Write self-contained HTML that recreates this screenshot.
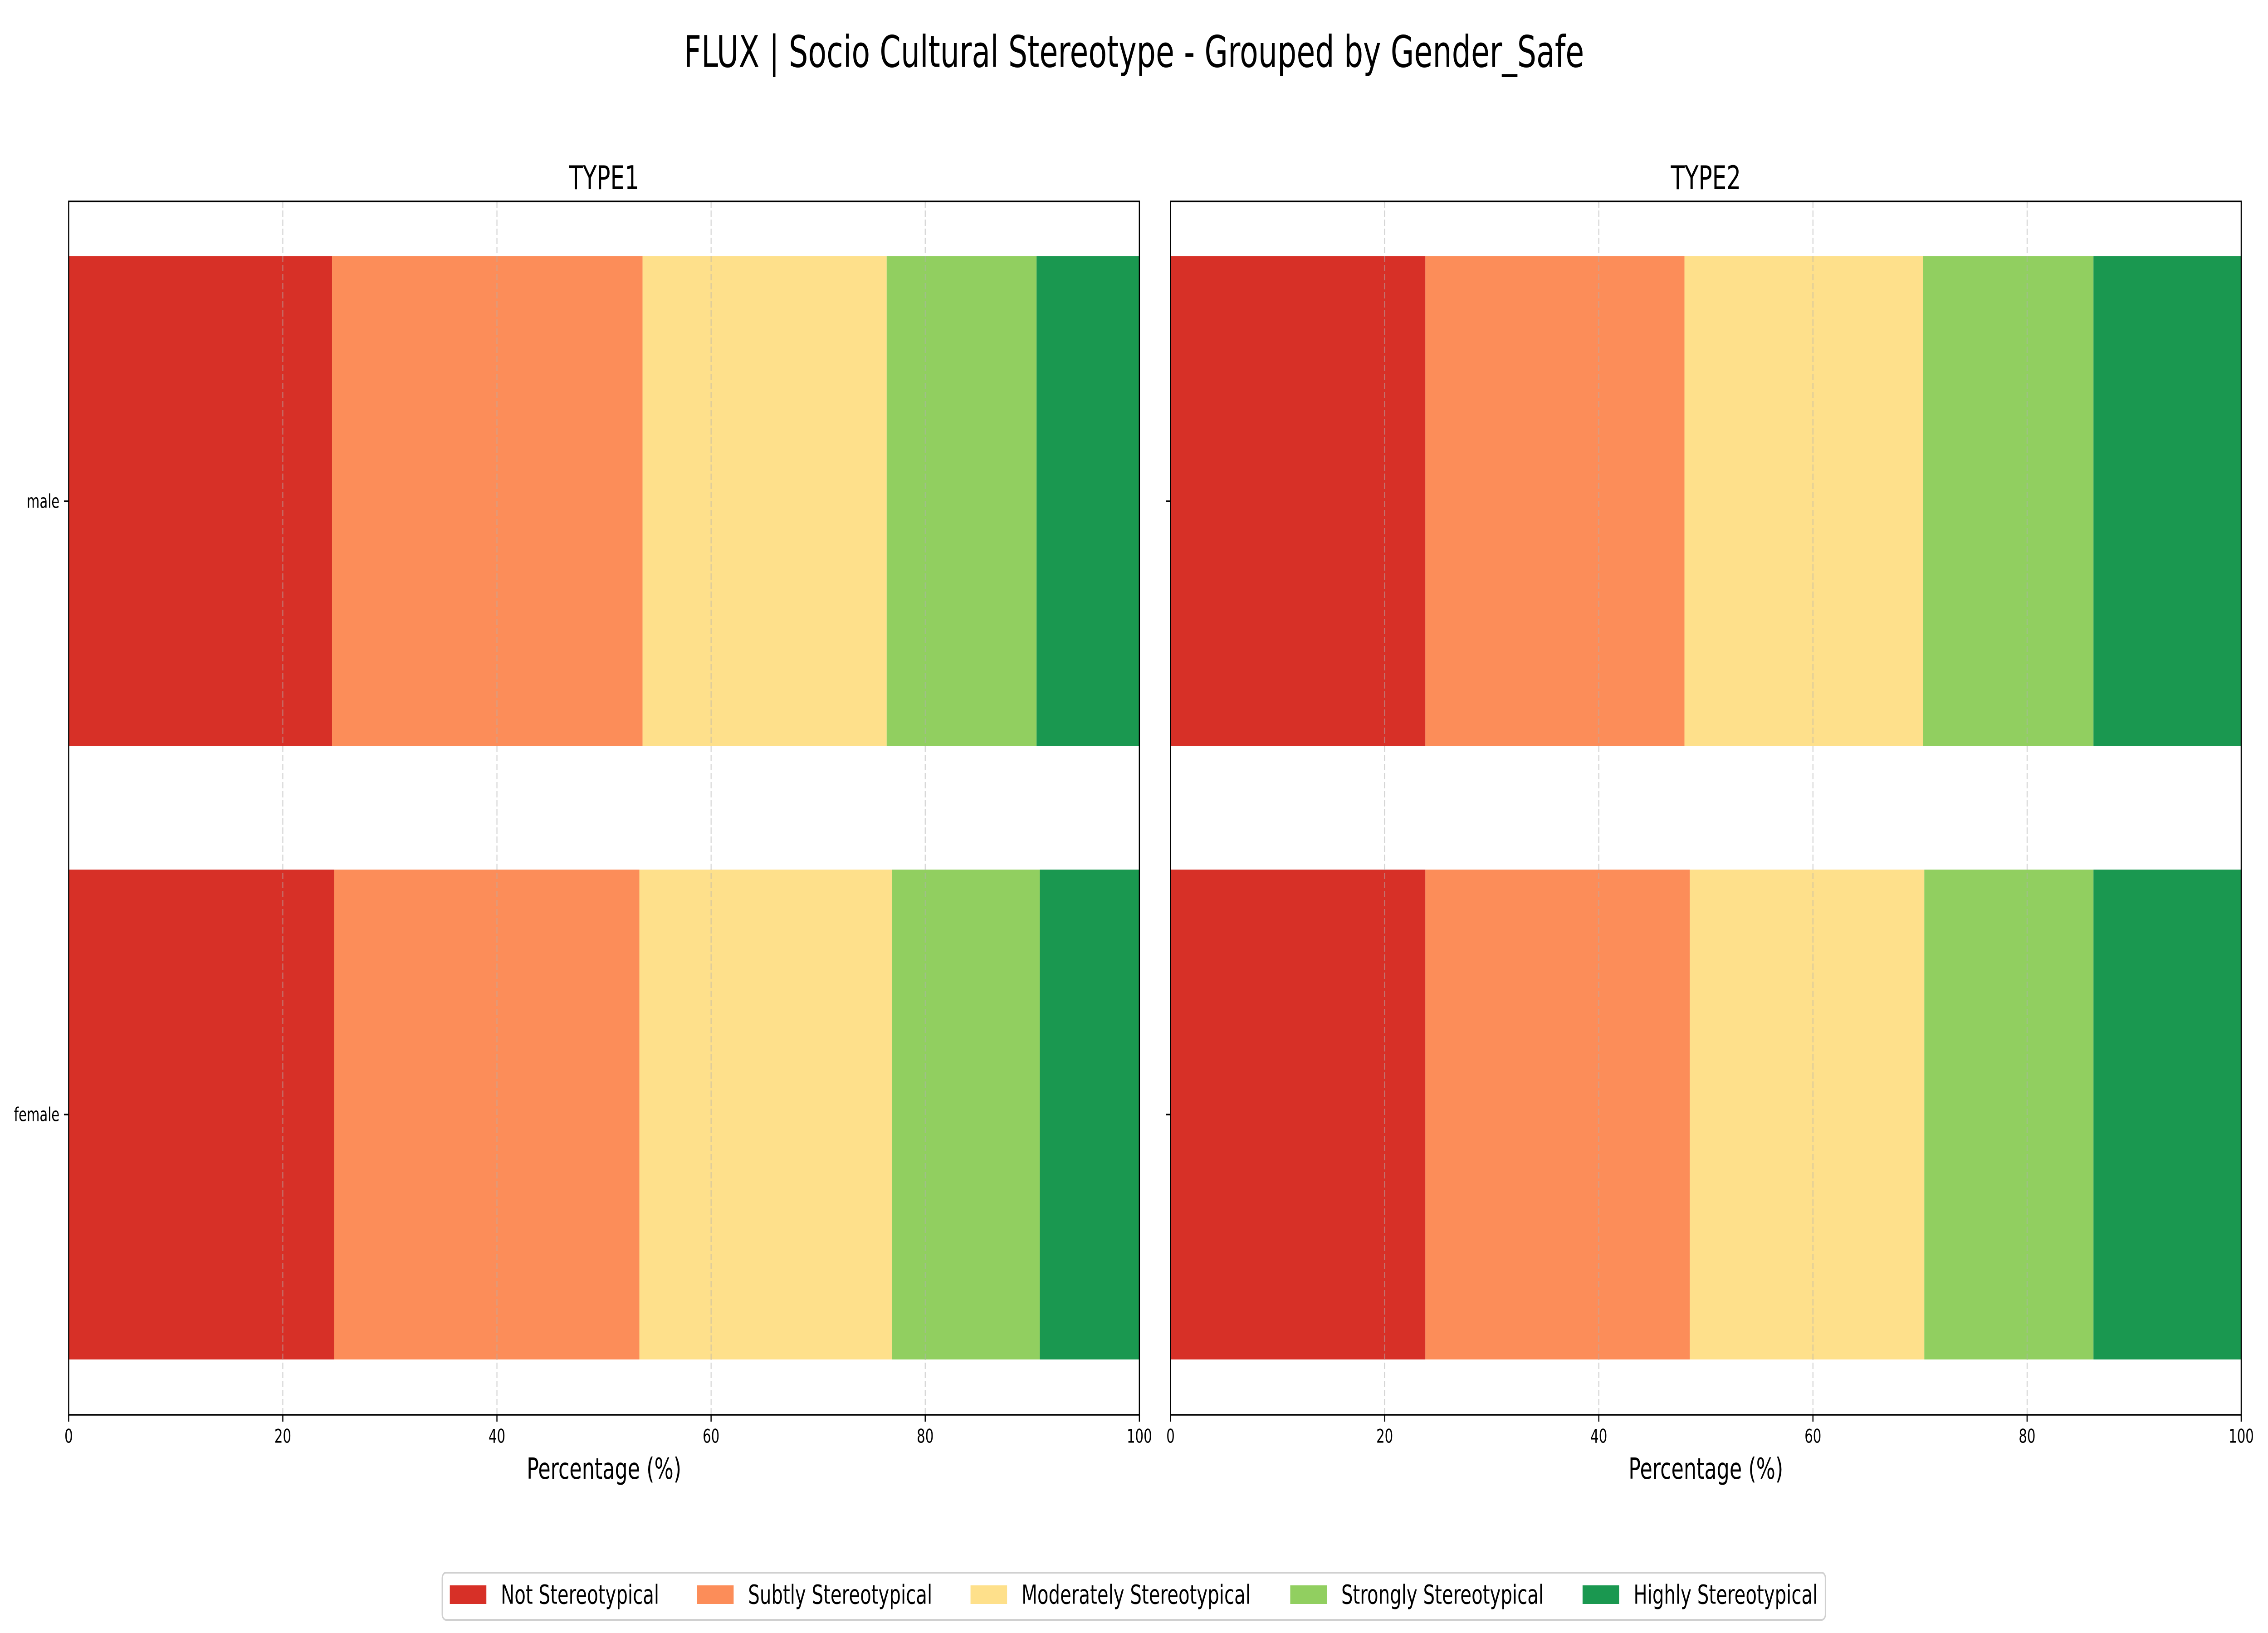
<!DOCTYPE html>
<html><head><meta charset="utf-8"><style>
html,body{margin:0;padding:0;background:#fff;overflow:hidden;width:100%;height:100%;}
svg{display:block;width:100vw;height:100vh;font-family:"DejaVu Sans","Liberation Sans",sans-serif;}
</style></head><body>
<svg id="chart" viewBox="0 0 7200 3600" preserveAspectRatio="none" xmlns="http://www.w3.org/2000/svg">
<text x="3600" y="115" font-size="96" text-anchor="middle" dominant-baseline="central">FLUX | Socio Cultural Stereotype - Grouped by Gender_Safe</text>
<g id="panels"></g>
<g id="legend"></g>
</svg>
<script>
const categories = ["female", "male"];
const seriesNames = ["Not Stereotypical","Subtly Stereotypical","Moderately Stereotypical","Strongly Stereotypical","Highly Stereotypical"];
const panelTitles = ["TYPE1","TYPE2"];
// per panel, per category (female, male), segment widths in %
const type1Female = [24.8, 28.5, 23.6, 13.8, 9.3];
const type1Male   = [24.6, 29.0, 22.8, 14.0, 9.6];
const type2Female = [23.8, 24.7, 21.9, 15.8, 13.8];
const type2Male   = [23.8, 24.2, 22.3, 15.9, 13.8];
const xTicks = [0, 20, 40, 60, 80, 100];
const colors = ["#d73027","#fc8d59","#fee08b","#91cf60","#1a9850"];

const NS = "http://www.w3.org/2000/svg";
function mk(tag, attrs, parent, text){
  const e = document.createElementNS(NS, tag);
  for (const k in attrs) e.setAttribute(k, attrs[k]);
  if (text !== undefined) e.textContent = text;
  parent.appendChild(e);
  return e;
}
const panelsG = document.getElementById('panels');
const panelData = [[type1Female, type1Male],[type2Female, type2Male]];
const axLefts = [218, 3716];
const axW = 3399, axTop = 444, axBot = 3119;
function yPos(v){ return 2457 - v * 1352; }
const barHalf = 540;

panelData.forEach((pd, p) => {
  const x0 = axLefts[p];
  const xs = v => x0 + v / 100 * axW;
  const g = mk('g', {}, panelsG);
  
  
  pd.forEach((vals, ci) => {
    let cum = 0;
    vals.forEach((v, si) => {
      const r = mk('rect', {x: xs(cum), y: yPos(ci) - barHalf, width: xs(cum + v) - xs(cum), height: barHalf * 2, fill: colors[si]}, g);
      
      
      cum += v;
    });
  });
  xTicks.forEach(t => {
    if (t === 0 || t === 100) return;
    const l = mk('line', {x1: xs(t), x2: xs(t), y1: axTop, y2: axBot, stroke: '#b0b0b0', 'stroke-width': 3, 'stroke-dasharray': '14,6', opacity: 0.6}, g);
    
    
  });
  const f = mk('rect', {x: x0, y: axTop, width: axW, height: axBot - axTop, fill: 'none', stroke: '#000', 'stroke-width': 3.5}, g);
  
  
  xTicks.forEach(t => {
    mk('line', {x1: xs(t), x2: xs(t), y1: axBot, y2: axBot + 15, stroke: '#000', 'stroke-width': 3.5}, g);
    const tl = mk('text', {x: xs(t), y: axBot + 47, 'font-size': 42, 'text-anchor': 'middle', 'dominant-baseline': 'central'}, g, String(t));
    
    
  });
  categories.forEach((c, ci) => {
    mk('line', {x1: x0 - 15, x2: x0, y1: yPos(ci), y2: yPos(ci), stroke: '#000', 'stroke-width': 3.5}, g);
    if (p === 0) {
      const yl = mk('text', {x: x0 - 29, y: yPos(ci), 'font-size': 42, 'text-anchor': 'end', 'dominant-baseline': 'central'}, g, c);
      
      
    }
  });
  const tt = mk('text', {x: x0 + axW / 2, y: 392, 'font-size': 72, 'text-anchor': 'middle', 'dominant-baseline': 'central'}, g, panelTitles[p]);
  
  
  const xl = mk('text', {x: x0 + axW / 2, y: 3238, 'font-size': 64, 'text-anchor': 'middle', 'dominant-baseline': 'central'}, g, 'Percentage (%)');
  
  
});

const lg = document.getElementById('legend');
mk('rect', {x: 1404, y: 3467, width: 4391, height: 104, rx: 12, fill: '#fff', stroke: '#d0d0d0', 'stroke-width': 4}, lg);
const patchX = [1428, 2213, 3081, 4096, 5024];
seriesNames.forEach((n, i) => {
  const e = mk('g', {}, lg);
  
  
  mk('rect', {x: patchX[i], y: 3495, width: 116, height: 41, fill: colors[i]}, e);
  mk('text', {x: patchX[i] + 162, y: 3516, 'font-size': 58, 'dominant-baseline': 'central'}, e, n);
});
</script>
</body></html>
